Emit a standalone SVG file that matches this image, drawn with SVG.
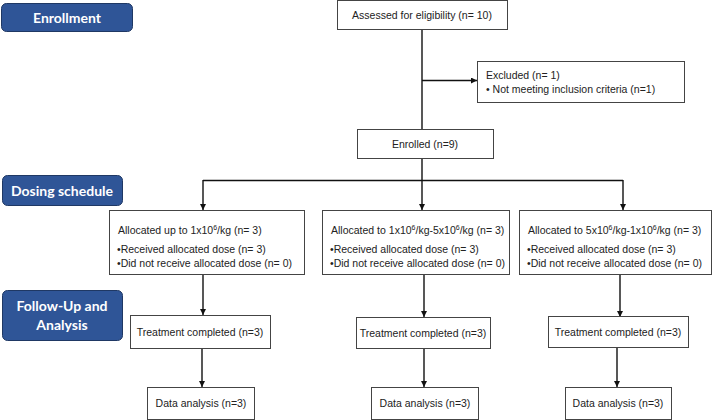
<svg xmlns="http://www.w3.org/2000/svg" width="714" height="420" viewBox="0 0 714 420">
<style>
.band{fill:#2F5597;stroke:#1F3864;stroke-width:1}
.bt{font-family:Lato,"Open Sans",sans-serif;font-weight:bold;font-size:14px;fill:#fff;text-anchor:middle}
.box{fill:#fff;stroke:#444;stroke-width:1}
.t{font-family:"Liberation Sans",Arial,sans-serif;font-size:10.5px;fill:#222}
.c{text-anchor:middle}
.ln{fill:none;stroke:#111;stroke-width:1.4}
.ar{fill:none;stroke:#111;stroke-width:1.4;marker-end:url(#ah)}
</style>
<defs>
<marker id="ah" viewBox="0 0 10 10" refX="10" refY="5" markerWidth="6" markerHeight="6" markerUnits="userSpaceOnUse" orient="auto">
<path d="M0,0 L10,5 L0,10 z" fill="#111"/>
</marker>
</defs>
<rect width="714" height="420" fill="#fff"/>
<g id="band-enrollment"><rect class="band" x="1.5" y="3.5" width="131" height="28" rx="5"/><text class="bt" x="67" y="22.5">Enrollment</text></g>
<g id="band-dosing"><rect class="band" x="2.5" y="175.5" width="120" height="30" rx="5"/><text class="bt" x="62" y="195.5">Dosing schedule</text></g>
<g id="band-followup"><rect class="band" x="2.5" y="290.5" width="120" height="50" rx="5"/><text class="bt" x="62" y="310.5">Follow-Up and</text><text class="bt" x="62" y="329.5">Analysis</text></g>
<g id="connectors">
<path class="ln" d="M422,29 V129"/>
<path class="ar" d="M422,80.5 H477"/>
<path class="ln" d="M422,158 V180.5"/>
<path class="ln" d="M203,180.5 H623"/>
<path class="ar" d="M203,180 V210"/>
<path class="ar" d="M422,180 V210"/>
<path class="ar" d="M623,180 V210"/>
<path class="ar" d="M203,275 V315"/>
<path class="ar" d="M424,275 V317"/>
<path class="ar" d="M620,275 V317"/>
<path class="ar" d="M202,348 V387"/>
<path class="ar" d="M424,348 V387"/>
<path class="ar" d="M617,347 V387"/>
</g>
<g id="assessed"><rect class="box" x="337.5" y="0.5" width="170" height="29"/><text class="t c" x="422" y="18.5">Assessed for eligibility (n= 10)</text></g>
<g id="excluded"><rect class="box" x="477.5" y="61.5" width="207" height="41"/><text class="t" x="486" y="79">Excluded (n= 1)</text><text class="t" x="486" y="93">•  Not meeting inclusion criteria (n=1)</text></g>
<g id="enrolled"><rect class="box" x="357.5" y="129.5" width="136" height="29"/><text class="t c" x="425" y="148">Enrolled (n=9)</text></g>
<g id="alloc1"><rect class="box" x="109.5" y="210.5" width="195" height="64"/><text class="t" x="118" y="234">Allocated up to 1x10<tspan dy="-4" font-size="7">6</tspan><tspan dy="4">/kg (n= 3)</tspan></text><text class="t" x="117" y="253">•Received allocated dose (n= 3)</text><text class="t" x="117" y="267">•Did not receive allocated dose (n= 0)</text></g>
<g id="alloc2"><rect class="box" x="322.5" y="210.5" width="187" height="64"/><text class="t" x="331" y="234">Allocated to 1x10<tspan dy="-4" font-size="7">6</tspan><tspan dy="4">/kg-5x10</tspan><tspan dy="-4" font-size="7">6</tspan><tspan dy="4">/kg (n= 3)</tspan></text><text class="t" x="330" y="253">•Received allocated dose (n= 3)</text><text class="t" x="330" y="267">•Did not receive allocated dose (n= 0)</text></g>
<g id="alloc3"><rect class="box" x="519.5" y="210.5" width="192" height="64"/><text class="t" x="528" y="234">Allocated to 5x10<tspan dy="-4" font-size="7">6</tspan><tspan dy="4">/kg-1x10</tspan><tspan dy="-4" font-size="7">6</tspan><tspan dy="4">/kg (n= 3)</tspan></text><text class="t" x="527" y="253">•Received allocated dose (n= 3)</text><text class="t" x="527" y="267">•Did not receive allocated dose (n= 0)</text></g>
<g id="treat1"><rect class="box" x="130.5" y="315.5" width="140" height="33"/><text class="t c" x="200" y="336">Treatment completed (n=3)</text></g>
<g id="treat2"><rect class="box" x="356.5" y="317.5" width="134" height="31"/><text class="t c" x="423" y="337">Treatment completed (n=3)</text></g>
<g id="treat3"><rect class="box" x="548.5" y="316.5" width="140" height="31"/><text class="t c" x="618" y="336">Treatment completed (n=3)</text></g>
<g id="data1"><rect class="box" x="147.5" y="387.5" width="107" height="32"/><text class="t c" x="201" y="407">Data analysis (n=3)</text></g>
<g id="data2"><rect class="box" x="371.5" y="387.5" width="107" height="32"/><text class="t c" x="425" y="407">Data analysis (n=3)</text></g>
<g id="data3"><rect class="box" x="565.5" y="387.5" width="106" height="32"/><text class="t c" x="618" y="407">Data analysis (n=3)</text></g>
</svg>
